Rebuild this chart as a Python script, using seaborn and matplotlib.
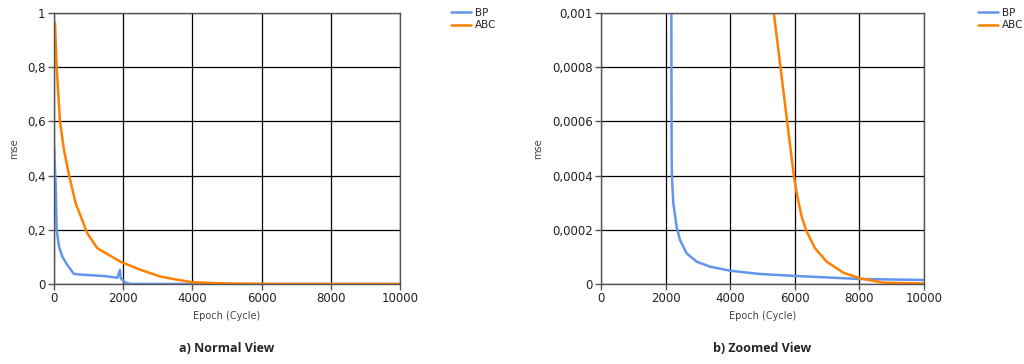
import matplotlib
matplotlib.use("Agg")
import matplotlib.pyplot as plt
import seaborn as sns
import pandas as pd

# ---- data ----
bp_epoch = [0, 20, 48, 77, 145, 241, 385, 578, 963, 1445, 1830, 1907, 1927, 2000, 2071,
            2140, 2178, 2186, 2195, 2239, 2343, 2446, 2653, 2963, 3375, 3994, 4923, 6059,
            8000, 10000]
bp_mse = [0.51, 0.45, 0.371, 0.199, 0.138, 0.101, 0.070, 0.037, 0.033, 0.0295, 0.023, 0.052,
          0.022, 0.012, 0.005, 0.002, 0.001, 0.0005, 0.0004, 0.000298, 0.000211, 0.000162,
          0.000113, 0.0000823, 0.000064, 0.0000491, 0.0000369, 0.0000295, 0.0000185,
          0.0000148]

abc_epoch = [29, 77, 173, 289, 434, 626, 963, 1252, 1926, 2505, 3058, 3468, 3971, 4500,
             4981, 5351, 5660, 5969, 6059, 6213, 6369, 6626, 6988, 7502, 8019, 8740, 10000]
abc_mse = [0.963, 0.80, 0.60, 0.494, 0.402, 0.298, 0.187, 0.132, 0.082, 0.052, 0.028, 0.018,
           0.007, 0.004, 0.002, 0.001, 0.0007, 0.0004, 0.000335, 0.000248, 0.000193,
           0.000132, 0.0000823, 0.0000417, 0.000021, 0.0000049, 0.000002]

x_ticks = [0, 2000, 4000, 6000, 8000, 10000]
x_tick_labels = ["0", "2000", "4000", "6000", "8000", "10000"]
y_ticks_a = [0, 0.2, 0.4, 0.6, 0.8, 1.0]
y_tick_labels_a = ["0", "0,2", "0,4", "0,6", "0,8", "1"]
y_ticks_b = [0, 0.0002, 0.0004, 0.0006, 0.0008, 0.001]
y_tick_labels_b = ["0", "0,0002", "0,0004", "0,0006", "0,0008", "0,001"]
captions = ["a) Normal View", "b) Zoomed View"]

df = pd.concat([
    pd.DataFrame({"epoch": bp_epoch, "mse": bp_mse, "series": "BP"}),
    pd.DataFrame({"epoch": abc_epoch, "mse": abc_mse, "series": "ABC"}),
], ignore_index=True)

sns.set_style("white")
plt.rcParams["font.family"] = ["DejaVu Sans"]

palette = {"BP": "#6495ED", "ABC": "#FF8000"}

fig = plt.figure(figsize=(10.24, 3.64), dpi=100)
axes = [fig.add_axes([54/1024, 80/364, 346/1024, 271/364]),
        fig.add_axes([601/1024, 80/364, 323/1024, 271/364])]

settings = [(y_ticks_a, y_tick_labels_a, 1.0, 1.135),
            (y_ticks_b, y_tick_labels_b, 0.001, 1.155)]

for ax, (yt, ytl, ymax, legx), cap in zip(axes, settings, captions):
    sns.lineplot(data=df, x="epoch", y="mse", hue="series", palette=palette,
                 linewidth=1.8, ax=ax, estimator=None, sort=False)
    ax.set_xlim(0, 10000)
    ax.set_ylim(0, ymax)
    ax.set_xticks(x_ticks)
    ax.set_xticklabels(x_tick_labels)
    ax.set_yticks(yt)
    ax.set_yticklabels(ytl)
    ax.grid(True, color="black", linewidth=0.9)
    ax.set_axisbelow(True)
    for s in ax.spines.values():
        s.set_color("#555555")
        s.set_linewidth(1.0)
    ax.tick_params(axis="both", which="both", direction="out", length=4, width=1,
                   color="#555555", labelsize=8.5, labelcolor="#222222", pad=2,
                   bottom=True, left=True)
    ax.set_xlabel("Epoch (Cycle)", fontsize=7, color="#444444", labelpad=4)
    ax.set_ylabel("mse", fontsize=7, color="#444444", labelpad=6)
    leg = ax.legend(loc="upper left", bbox_to_anchor=(legx, 1.035), frameon=False,
                    fontsize=7.5, handlelength=1.9, handletextpad=0.4,
                    labelspacing=0.25, borderaxespad=0)
    for line in leg.get_lines():
        line.set_linewidth(1.8)
    bb = ax.get_position()
    fig.text((bb.x0 + bb.x1) / 2, 15/364, cap, ha="center", va="center",
             fontsize=9, fontweight="bold", family=["Open Sans", "DejaVu Sans"])

fig.savefig("out.png", dpi=100)
